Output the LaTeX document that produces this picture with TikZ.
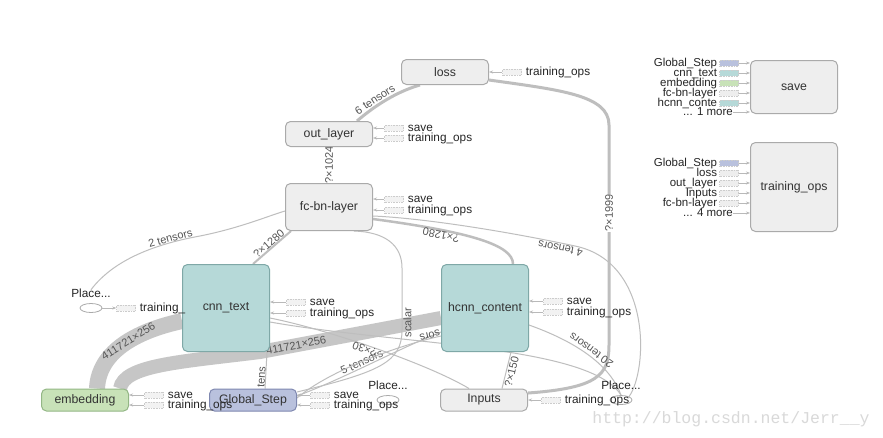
\documentclass[tikz,border=0pt]{standalone}
\usepackage{fontspec}
\setmainfont{Liberation Sans}
\setmonofont{Liberation Mono}
\usetikzlibrary{arrows.meta,positioning,shapes.geometric}
\pgfdeclarelayer{paper}
\pgfdeclarelayer{edges}
\pgfsetlayers{paper,edges,main}

\definecolor{opfill}{HTML}{EEEEEE}
\definecolor{opdraw}{HTML}{AAAAAA}
\definecolor{tealfill}{HTML}{B6D9D8}
\definecolor{tealdraw}{HTML}{7FA8A7}
\definecolor{embfill}{HTML}{C8E2B8}
\definecolor{embdraw}{HTML}{93B785}
\definecolor{stepfill}{HTML}{B9C1DD}
\definecolor{stepdraw}{HTML}{7F88B0}
\definecolor{edgegray}{HTML}{BEBEBE}
\definecolor{bandgray}{HTML}{C6C6C6}
\definecolor{txt}{HTML}{333333}
\definecolor{lbl}{HTML}{555555}

\begin{document}
\begin{tikzpicture}[x=1pt,y=-1pt,>={Stealth[length=4pt,width=3pt]},
 font=\fontsize{11.8}{11.8}\selectfont,
 op/.style={draw=opdraw,fill=opfill,text=txt,rounded corners=5pt,line width=1pt,
  minimum width=87pt,minimum height=25pt,inner sep=0pt,font=\fontsize{12.3}{13}\selectfont},
 meta/.style={op,fill=tealfill,draw=tealdraw,minimum height=87pt},
 place/.style={ellipse,draw=opdraw,fill=white,line width=.8pt,minimum width=22pt,minimum height=9pt,inner sep=0pt},
 stubbox/.style={draw=gray!40,fill=gray!10,dash pattern=on .8pt off .8pt,minimum width=19pt,minimum height=6pt,inner sep=0pt},
 auxlbl/.style={inner sep=0pt,text height=8pt,text depth=2pt,text=black!85},
 aux/.style={draw=gray!55,line width=.6pt,->},
 edge/.style={draw=edgegray,line width=1pt},
 band/.style={draw=bandgray,line width=16pt},
 elabel/.style={font=\fontsize{11}{10}\selectfont,text=lbl,sloped,inner sep=1pt}]
 \begin{pgfonlayer}{paper}
 \fill[white] (0,0) rectangle (883,437);
 \end{pgfonlayer}
 \useasboundingbox (0,0) rectangle (883,437);

 % ops
 \node[op] (loss) at (445,72) {loss};
 \node[op] (outlayer) at (329,134) {out\_layer};
 \node[op,minimum height=47pt] (fcbn) at (329,207) {fc-bn-layer};
 \node[meta] (cnntext) at (226,308) {cnn\_text};
 \node[meta] (hcnn) at (485,308) {hcnn\_content};
 \node[op,fill=embfill,draw=embdraw,minimum height=22pt] (emb) at (85,400) {embedding};
 \node[op,fill=stepfill,draw=stepdraw,minimum height=22pt] (gstep) at (253,400) {Global\_Step};
 \node[op,minimum height=22pt] (inputs) at (484,400) {Inputs};
 \node[op,minimum height=53pt] (save) at (794,87) {save};
 \node[op,minimum height=89pt] (trainops) at (794,187) {training\_ops};

 % placeholders
 \node[place] (pll) at (91,308) {};
 \node[auxlbl,above=3pt of pll] (pllt) {Place...};
 \node[place] (plm) at (388,400) {};
 \node[auxlbl,above=3pt of plm] (plmt) {Place...};
 \node[place] (plr) at (621,400) {};
 \node[auxlbl,above=3pt of plr] (plrt) {Place...};

 \begin{pgfonlayer}{edges}
 % embedding bands
 \draw[band] ([xshift=12pt]emb.north) .. controls (99,345) and (150,328) .. ([yshift=-13pt]cnntext.west)
  node[elabel,midway]{411721×256};
 \draw[band,line width=14pt] ([xshift=35pt]emb.north) .. controls (124,365) and (180,362) .. (260,352)
  -- node[elabel,pos=.2]{411721×256} ([yshift=-10pt]hcnn.west);
 % data flow
 \draw[edge,line width=3pt] ([xshift=28pt]outlayer.north) .. controls (372,108) and (395,92) .. ([xshift=-25pt]loss.south)
  node[elabel,pos=.4,above]{6 tensors};
 \draw[edge,line width=1.5pt] (fcbn.north) -- (outlayer.south) node[elabel,midway,fill=white,inner sep=.5pt]{?×1024};
 \draw[edge,line width=2pt] ([xshift=27pt]cnntext.north) -- ([xshift=-38pt]fcbn.south) node[elabel,midway,above,inner sep=0pt]{?×1280};
 \draw[edge,line width=2.5pt] ([xshift=28pt]hcnn.north) .. controls (513,245) and (470,232) .. ([yshift=12pt]fcbn.south east)
  node[elabel,pos=.72,above,allow upside down,inner sep=0pt]{?×1280};
 \draw[edge,line width=3pt] ([yshift=7pt]inputs.east) .. controls (598,388) and (609,375) .. (609,345)
  -- node[elabel,pos=.6,fill=white,inner sep=.5pt]{?×1999} (609,125) .. controls (609,95) and (560,90) .. ([yshift=-8pt]loss.east);
 \draw[edge] (plr.north east) .. controls (648,370) and (652,262) .. (575,246)
  .. controls (500,230) and (420,218) .. ([yshift=15pt]fcbn.south east)
  node[elabel,pos=.06,above,allow upside down]{4 tensors};
 \draw[edge] (pllt.north) .. controls (112,262) and (150,245) .. (200,236)
  node[elabel,pos=.8,above,inner sep=0pt]{2 tensors}
  .. controls (240,228) and (268,216) .. ([yshift=-4pt]fcbn.west);
 \draw[edge] (plr.north) .. controls (612,370) and (585,345) .. ([yshift=-17pt]hcnn.east)
  node[elabel,pos=.55,below,allow upside down]{20 tensors};
 \draw[edge] ([xshift=18pt]inputs.north) -- ([xshift=26pt]hcnn.south) node[elabel,midway,below]{?×150};
 \draw[edge] ([xshift=-15pt]inputs.north) .. controls (430,365) and (330,330) .. ([yshift=-10pt]cnntext.east)
  node[elabel,pos=.55,above,allow upside down,inner sep=0pt]{?×30};
 \draw[edge] ([yshift=-14pt]cnntext.east) .. controls (400,345) and (590,345) .. (plr.north);
 \draw[edge] ([yshift=8pt]gstep.east) .. controls (380,372) and (402,362) .. (402,330)
  -- node[elabel,pos=.12,below]{scalar} (402,268) .. controls (402,245) and (385,232) .. ([xshift=25pt]fcbn.south);
 \draw[edge] ([yshift=4pt]gstep.east) .. controls (345,378) and (400,348) .. ([yshift=-24pt]hcnn.west)
  node[elabel,pos=.45,above]{5 tensors};
 \draw[edge] ([yshift=-28pt]hcnn.west) .. controls (400,345) and (330,370) .. ([yshift=2pt]gstep.east)
  node[elabel,pos=.08,below,allow upside down,inner sep=0pt]{sors};
 \draw[edge] ([xshift=12pt]gstep.north) -- ([xshift=-3pt]cnntext.south east) node[elabel,pos=.3,above,inner sep=0pt]{tens};
 \end{pgfonlayer}

 % save / training_ops stubs
 \foreach \nd/\sx/\ys/\yt in {outlayer/394/128/138,fcbn/394/199/210,cnntext/296/302/313,
  hcnn/553/301/312,emb/154/395/405,gstep/320/395/405}{
  \node[stubbox] (\nd-s) at (\sx,\ys) {};
  \node[auxlbl,right=4pt of \nd-s] {save};
  \draw[aux] (\nd-s.west) -- (\nd.east |- \nd-s);
  \node[stubbox] (\nd-t) at (\sx,\yt) {};
  \node[auxlbl,right=4pt of \nd-t] {training\_ops};
  \draw[aux] (\nd-t.west) -- (\nd.east |- \nd-t);
 }
 \foreach \nd/\sx/\yt in {loss/512/72,inputs/551/400}{
  \node[stubbox] (\nd-t) at (\sx,\yt) {};
  \node[auxlbl,right=4pt of \nd-t] {training\_ops};
  \draw[aux] (\nd-t.west) -- (\nd.east |- \nd-t);
 }
 \node[stubbox] (pll-t) at (126,308) {};
 \node[auxlbl,right=4pt of pll-t] {training\_};
 \draw[aux] (pll) -- (pll-t);

 % inputs of save and training_ops
 \foreach \lab/\col/\yy [count=\i] in {Global\_Step/stepfill/63,cnn\_text/tealfill/73,embedding/embfill/83,
  fc-bn-layer/opfill/93,hcnn\_conte/tealfill/103}{
  \node[stubbox,fill=\col] (sv\i) at (729,\yy) {};
  \node[auxlbl,left=2pt of sv\i,font=\fontsize{11.5}{11.5}\selectfont] {\lab};
  \draw[aux] (sv\i) -- (save.west |- sv\i);
 }
 \node[auxlbl,anchor=east,font=\fontsize{11.5}{11.5}\selectfont] (svmore) at (733,112) {... 1 more};
 \draw[aux] (svmore) -- (save.west |- svmore);
 \foreach \lab/\col/\yy [count=\i] in {Global\_Step/stepfill/163,loss/opfill/173,out\_layer/opfill/183,
  Inputs/opfill/193,fc-bn-layer/opfill/203}{
  \node[stubbox,fill=\col] (tr\i) at (729,\yy) {};
  \node[auxlbl,left=2pt of tr\i,font=\fontsize{11.5}{11.5}\selectfont] {\lab};
  \draw[aux] (tr\i) -- (trainops.west |- tr\i);
 }
 \node[auxlbl,anchor=east,font=\fontsize{11.5}{11.5}\selectfont] (trmore) at (733,213) {... 4 more};
 \draw[aux] (trmore) -- (trainops.west |- trmore);

 \node[font=\ttfamily\fontsize{16.5}{17}\selectfont,text=gray!30] (mark) at (731,419) {http://blog.csdn.net/Jerr\_\_y};
\end{tikzpicture}
\end{document}
